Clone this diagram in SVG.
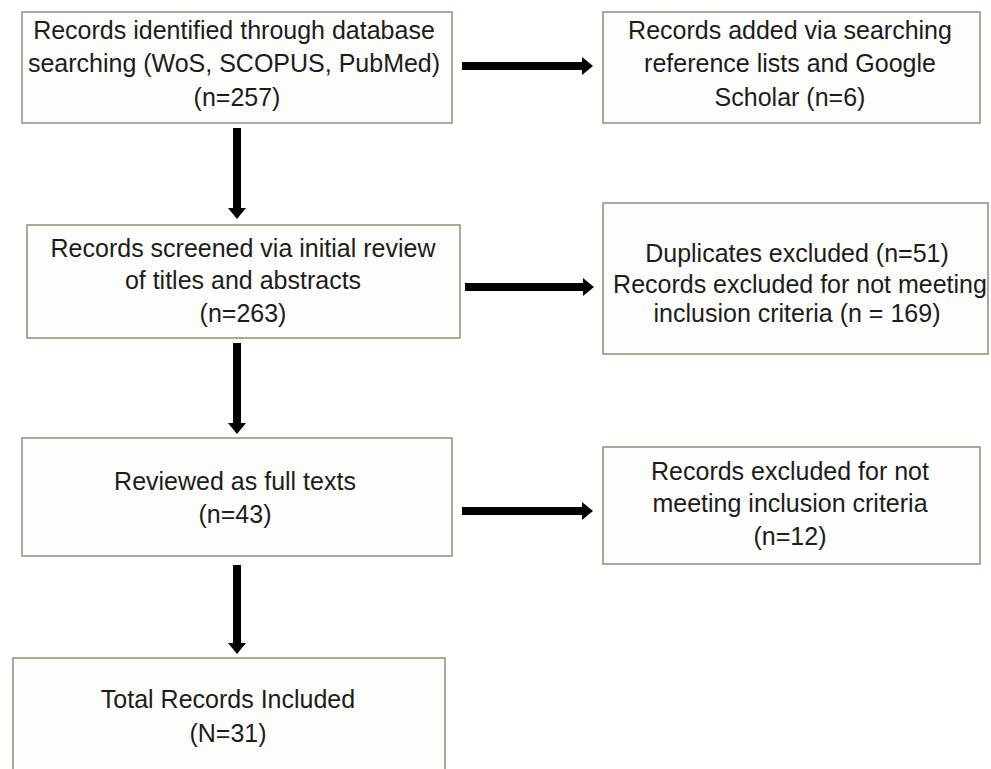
<svg xmlns="http://www.w3.org/2000/svg" width="991" height="769" viewBox="0 0 991 769">
<style>
.box{fill:#fdfefb;stroke:#8e9a7d;stroke-width:1.6}
.t{font-family:"Liberation Sans",Arial,sans-serif;font-size:25px;fill:#1c1c1c;text-anchor:middle}
.arr{stroke:#000;stroke-width:8;fill:none}
</style>
<defs>
<marker id="hd" markerUnits="userSpaceOnUse" markerWidth="12" markerHeight="18" refX="0" refY="9" orient="auto">
<path d="M0,0 L11,9 L0,18 z" fill="#000"/>
</marker>
</defs>
<rect width="991" height="769" fill="#ffffff"/>
<g id="connectors">
<line class="arr" x1="237" y1="128" x2="237" y2="208" marker-end="url(#hd)"/>
<line class="arr" x1="462" y1="66" x2="582" y2="66" marker-end="url(#hd)"/>
<line class="arr" x1="237" y1="343" x2="237" y2="423" marker-end="url(#hd)"/>
<line class="arr" x1="465" y1="287" x2="583" y2="287" marker-end="url(#hd)"/>
<line class="arr" x1="237" y1="565" x2="237" y2="643" marker-end="url(#hd)"/>
<line class="arr" x1="462" y1="511" x2="582" y2="511" marker-end="url(#hd)"/>
</g>
<g id="identified">
<rect class="box" x="22" y="12" width="430" height="111"/>
<text class="t" x="234" y="39">Records identified through database</text>
<text class="t" x="234" y="72">searching  (WoS, SCOPUS, PubMed)</text>
<text class="t" x="237" y="106">(n=257)</text>
</g>
<g id="added">
<rect class="box" x="603" y="12" width="377" height="111"/>
<text class="t" x="790" y="39">Records added via searching</text>
<text class="t" x="790" y="72">reference lists and Google</text>
<text class="t" x="790" y="106">Scholar (n=6)</text>
</g>
<g id="screened">
<rect class="box" x="27" y="225" width="433" height="113"/>
<text class="t" x="243" y="257">Records screened via initial review</text>
<text class="t" x="243" y="289">of titles and abstracts</text>
<text class="t" x="243" y="322">(n=263)</text>
</g>
<g id="excluded1">
<rect class="box" x="603" y="203" width="385" height="151"/>
<text class="t" x="797" y="262">Duplicates excluded (n=51)</text>
<text class="t" x="800" y="293">Records excluded for not meeting</text>
<text class="t" x="797" y="322">inclusion criteria (n = 169)</text>
</g>
<g id="fulltext">
<rect class="box" x="22" y="438" width="430" height="118"/>
<text class="t" x="235" y="490">Reviewed as full texts</text>
<text class="t" x="235" y="523">(n=43)</text>
</g>
<g id="excluded2">
<rect class="box" x="603" y="447" width="377" height="117"/>
<text class="t" x="790" y="480">Records excluded for not</text>
<text class="t" x="790" y="512">meeting inclusion criteria</text>
<text class="t" x="790" y="545">(n=12)</text>
</g>
<g id="included">
<rect class="box" x="13" y="658" width="432" height="130"/>
<text class="t" x="228" y="708">Total Records Included</text>
<text class="t" x="228" y="742">(N=31)</text>
</g>
</svg>
